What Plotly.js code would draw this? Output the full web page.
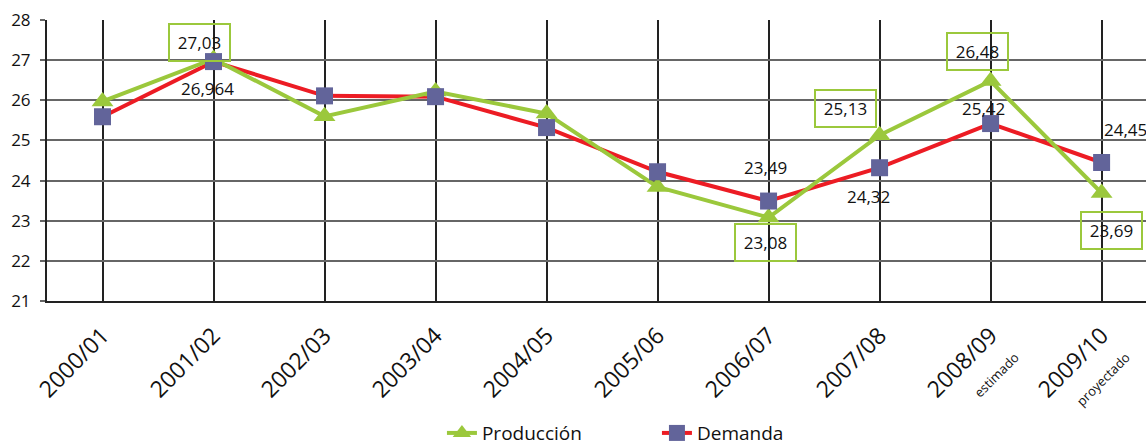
<!DOCTYPE html>
<html>
<head>
<meta charset="utf-8">
<script src="https://cdn.plot.ly/plotly-3.0.1.min.js"></script>
<style>html,body{margin:0;padding:0;background:#fff;}#chart{width:1146px;height:446px;}</style>
</head>
<body>
<div id="chart"></div>
<script>
// ---- data ----
var categories = ["2000/01","2001/02","2002/03","2003/04","2004/05","2005/06","2006/07","2007/08","2008/09","2009/10"];
var categoryNotes = ["","","","","","","","","estimado","proyectado"];
var produccion = [25.97, 27.03, 25.6, 26.22, 25.67, 23.84, 23.08, 25.13, 26.48, 23.69];
var demanda = [25.59, 26.964, 26.11, 26.09, 25.32, 24.22, 23.49, 24.32, 25.42, 24.45];
var produccionLabeled = [1, 6, 7, 8, 9];
var demandaLabeled = [1, 6, 7, 8, 9];
var yTicks = [21, 22, 23, 24, 25, 26, 27, 28];

// ---- styles ----
var green = "#9bc83c", red = "#ec1c24", slate = "#62649a";
var prodShift = {1:[-14.5,16.5], 6:[-3,-25], 7:[-34,27], 8:[-13,30], 9:[10,-37.5]};
var demShift = {1:[-6,-27], 6:[-3,34], 7:[-11,-29], 8:[-7,15], 9:[24,33]};

var ticktext = categories.map(function(c,i){
  return categoryNotes[i] ? c + "<br><span style='font-size:13px'>" + categoryNotes[i] + "</span>" : c;
});
var fmt = function(v){ return String(v).replace('.', ','); };

var traces = [
  {x: categories, y: demanda, mode: 'lines', line: {color: red, width: 4}, showlegend: false, hoverinfo: 'skip'},
  {x: categories, y: produccion, name: 'Producción', mode: 'lines+markers',
   line: {color: green, width: 4}, marker: {symbol: 'triangle-up', size: 19, color: green}},
  {x: categories, y: demanda, mode: 'markers', showlegend: false,
   marker: {symbol: 'square', size: 17, color: slate}},
  {x: [null], y: [null], name: 'Demanda', mode: 'lines+markers',
   line: {color: red, width: 4}, marker: {symbol: 'square', size: 17, color: slate}}
];

var annotations = [];
produccionLabeled.forEach(function(i){
  annotations.push({x: categories[i], y: produccion[i], xref: 'x', yref: 'y', text: fmt(produccion[i]),
    showarrow: false, xshift: prodShift[i][0], yshift: prodShift[i][1],
    font: {family: 'Open Sans, sans-serif', size: 17, color: '#111'},
    bordercolor: green, borderwidth: 2, borderpad: 1, width: 57, height: 33});
});
demandaLabeled.forEach(function(i){
  annotations.push({x: categories[i], y: demanda[i], xref: 'x', yref: 'y', text: fmt(demanda[i]),
    showarrow: false, xshift: demShift[i][0], yshift: demShift[i][1],
    font: {family: 'Open Sans, sans-serif', size: 17, color: '#111'}});
});

var layout = {
  width: 1146, height: 446,
  margin: {l: 47, r: 0, t: 20, b: 145, autoexpand: false},
  paper_bgcolor: '#fff', plot_bgcolor: '#fff',
  font: {family: 'Open Sans, sans-serif', color: '#111'},
  xaxis: {
    type: 'category', range: [-0.5, 9.4], automargin: false,
    tickvals: categories, ticktext: ticktext, tickangle: -45,
    tickfont: {size: 23, color: '#111'}, ticklabelstandoff: 10,
    showgrid: true, gridcolor: '#222', gridwidth: 2,
    showline: true, linecolor: '#222', linewidth: 2,
    ticks: '', zeroline: false
  },
  yaxis: {
    range: [21, 28], tickvals: yTicks, ticktext: yTicks.map(String), automargin: false,
    tickfont: {size: 17, color: '#111'},
    showgrid: true, gridcolor: '#666', gridwidth: 2,
    showline: true, linecolor: '#222', linewidth: 2,
    ticks: 'outside', ticklen: 5, tickcolor: '#666', tickwidth: 2,
    ticklabelstandoff: 6, zeroline: false
  },
  showlegend: true,
  legend: {orientation: 'h', x: 0.555, xanchor: 'center', y: -0.47, yanchor: 'middle',
    font: {size: 19, color: '#111'}, bgcolor: 'rgba(0,0,0,0)', entrywidth: 170},
  annotations: annotations
};

Plotly.newPlot('chart', traces, layout, {displayModeBar: false, staticPlot: true});
</script>
</body>
</html>
